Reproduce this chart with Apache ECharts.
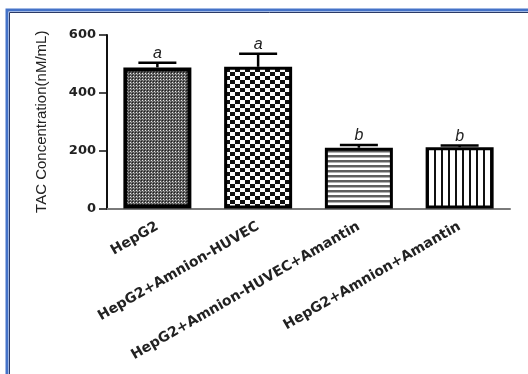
<!DOCTYPE html>
<html>
<head>
<meta charset="utf-8">
<script src="https://cdn.jsdelivr.net/npm/echarts@6/dist/echarts.min.js"></script>
<style>
  html, body { margin: 0; padding: 0; background: #fff; }
  #chart { width: 528px; height: 374px; }
</style>
</head>
<body>
<div id="chart"></div>
<script>
// Groups, mean TAC values, upward error (SD) and significance letters
const groups = ['HepG2', 'HepG2+Amnion-HUVEC', 'HepG2+Amnion-HUVEC+Amantin', 'HepG2+Amnion+Amantin'];
const means = [488, 490, 210, 212];
const errors = [16, 45, 10, 6];
const letters = ['a', 'a', 'b', 'b'];
const yTicks = [0, 200, 400, 600];

// Fill patterns for each bar, drawn on small tiles
function tile(w, h, draw) {
  const c = document.createElement('canvas');
  c.width = w; c.height = h;
  const g = c.getContext('2d');
  g.fillStyle = '#fff';
  g.fillRect(0, 0, w, h);
  draw(g);
  return c;
}
const dotTile = tile(3, 3, g => {
  g.fillStyle = '#5a5a5a';
  g.fillRect(0, 0, 3, 3);
  g.fillStyle = '#1e1e1e';
  g.fillRect(0, 0, 1, 1);
  g.fillStyle = '#e8e8e8';
  g.fillRect(1, 1, 1, 1);
  g.fillStyle = '#9a9a9a';
  g.fillRect(2, 2, 1, 1);
});
const checkTile = tile(10, 8, g => {
  g.fillStyle = '#111';
  g.fillRect(0, 0, 5, 4);
  g.fillRect(5, 4, 5, 4);
});
const hStripeTile = tile(5, 5, g => {
  g.fillStyle = '#5e5e5e';
  g.fillRect(0, 0, 5, 2);
  g.fillStyle = '#b0b0b0';
  g.fillRect(0, 2, 5, 1);
});
const vStripeTile = tile(7, 7, g => {
  g.fillStyle = '#111';
  g.fillRect(0, 0, 2, 7);
});
const fills = [dotTile, checkTile, hStripeTile, vStripeTile].map(img => ({ image: img, repeat: 'repeat' }));
const borderWidths = [4, 3, 3, 3];

const chart = echarts.init(document.getElementById('chart'), null, { renderer: 'canvas' });

chart.setOption({
  backgroundColor: '#fff',
  animation: false,
  grid: { left: 107, right: 18, top: 35, bottom: 165.5 },
  graphic: [
    { type: 'rect', silent: true, shape: { x: 7, y: 10, width: 620, height: 480 },
      style: { fill: 'none', stroke: '#4472c8', lineWidth: 3 } },
    { type: 'rect', silent: true, shape: { x: 9.5, y: 12.5, width: 620, height: 480 },
      style: { fill: 'none', stroke: '#2b3a66', lineWidth: 1 } }
  ],
  xAxis: {
    type: 'category',
    data: groups,
    axisLine: { lineStyle: { color: '#7a7a7a', width: 2 } },
    axisTick: { alignWithLabel: true, length: 4, lineStyle: { color: '#444', width: 1.5 } },
    axisLabel: {
      rotate: 30, margin: 17, interval: 0,
      fontFamily: 'DejaVu Sans', fontWeight: 'bold', fontSize: 14, color: '#222'
    }
  },
  yAxis: {
    type: 'value',
    min: 0, max: 600, interval: 200,
    name: 'TAC Concentration(nM/mL)',
    nameLocation: 'middle',
    nameGap: 58,
    nameTextStyle: { fontFamily: 'Liberation Sans', fontSize: 15, color: '#222' },
    splitLine: { show: false },
    axisLine: { show: true, lineStyle: { color: '#111', width: 2 } },
    axisTick: { show: true, length: 8, lineStyle: { color: '#111', width: 1.5 } },
    axisLabel: {
      margin: 11,
      fontFamily: 'DejaVu Sans', fontWeight: 'bold', fontSize: 13, color: '#222',
      formatter: v => (yTicks.indexOf(v) >= 0 ? String(v) : '')
    }
  },
  series: [
    {
      type: 'bar',
      barWidth: 68,
      data: means.map((v, i) => ({
        value: v,
        itemStyle: { color: fills[i], borderColor: '#000', borderWidth: borderWidths[i] }
      }))
    },
    {
      // Upward error bars with cap, and the significance letter above each
      type: 'custom',
      z: 5,
      data: means.map((m, i) => [i, m, m + errors[i], letters[i]]),
      renderItem: (params, api) => {
        const i = api.value(0);
        const base = api.coord([i, api.value(1)]);
        const top = api.coord([i, api.value(2)]);
        const half = 19;
        return {
          type: 'group',
          children: [
            { type: 'line', shape: { x1: top[0], y1: base[1], x2: top[0], y2: top[1] },
              style: { stroke: '#000', lineWidth: 2.5 } },
            { type: 'line', shape: { x1: top[0] - half, y1: top[1], x2: top[0] + half, y2: top[1] },
              style: { stroke: '#000', lineWidth: 2.5 } },
            { type: 'text', x: top[0], y: top[1] - 9,
              style: {
                text: letters[params.dataIndex],
                fontFamily: 'Liberation Sans', fontStyle: 'italic', fontSize: 16,
                fill: '#222', align: 'center', verticalAlign: 'middle'
              } }
          ]
        };
      }
    }
  ]
});
</script>
</body>
</html>
